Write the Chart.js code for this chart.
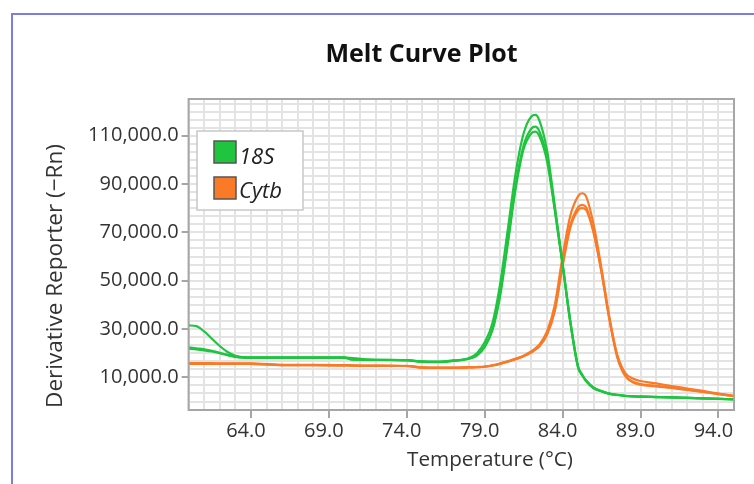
<!DOCTYPE html>
<html><head><meta charset="utf-8">
<script src="https://cdn.jsdelivr.net/npm/chart.js@4"></script>
<style>html,body{margin:0;padding:0;background:#fff;}</style>
</head><body>
<canvas id="c" width="754" height="484"></canvas>
<script>
// ---- data ----
const temps = [60, 60.5, 61, 61.5, 62, 62.5, 63, 63.5, 64, 66, 68, 70, 70.5, 72, 74, 75, 76, 77, 78, 78.5, 79, 79.5, 80, 80.5, 81, 81.5, 82, 82.25, 82.5, 83, 83.5, 84, 84.5, 85, 85.25, 85.5, 86, 86.5, 87, 87.5, 88, 88.5, 89, 90, 91, 92, 93, 94, 95];

const s18_rep1 = [31500, 31200, 29000, 26000, 23000, 20500, 18900, 18400, 18300, 18300, 18300, 18300, 17400, 17300, 17100, 16600, 16500, 17000, 18000, 20000, 24500, 32500, 49000, 72000, 95000, 111000, 118000, 118600, 116500, 104000, 81000, 57000, 32500, 14000, 11000, 8800, 5700, 4300, 3300, 2800, 2400, 2200, 2050, 1900, 1750, 1550, 1350, 1150, 950];
const s18_rep2 = [22400, 22000, 21600, 21000, 20200, 19300, 18600, 18300, 18200, 18200, 18200, 18200, 18000, 17300, 17100, 16500, 16400, 16900, 17800, 19200, 23000, 30000, 45000, 67000, 90000, 106000, 113000, 113800, 112000, 101000, 80000, 57000, 33000, 14000, 11000, 8500, 5500, 4200, 3200, 2700, 2300, 2100, 2000, 1850, 1700, 1500, 1300, 1100, 900];
const s18_rep3 = [21900, 21600, 21200, 20700, 20000, 19200, 18500, 18200, 18100, 18100, 18100, 18100, 17300, 17200, 17000, 16400, 16300, 16800, 17700, 19000, 22500, 29500, 44000, 66000, 88500, 104500, 111000, 111700, 110000, 99500, 79000, 56500, 33000, 14500, 11200, 8600, 5600, 4250, 3250, 2750, 2350, 2150, 2000, 1850, 1700, 1500, 1300, 1100, 900];

const cytb_rep1 = [15900, 15900, 15900, 15900, 15800, 15800, 15800, 15800, 15800, 15200, 15200, 15100, 15000, 14900, 14800, 14100, 14000, 14000, 14200, 14300, 14500, 15000, 15800, 16700, 17800, 19000, 20800, 22000, 23500, 29000, 40000, 60000, 77000, 85000, 86200, 85000, 73000, 55000, 35000, 19500, 12000, 9500, 8500, 7500, 6400, 5400, 4400, 3300, 2300];
const cytb_rep2 = [15600, 15600, 15600, 15600, 15600, 15600, 15600, 15600, 15600, 15100, 15100, 15000, 14900, 14800, 14700, 14000, 13900, 13900, 14100, 14200, 14400, 14900, 15700, 16600, 17600, 18800, 20500, 21600, 23000, 28000, 38000, 57000, 73000, 80500, 81400, 80500, 70000, 53500, 34000, 18500, 10800, 8000, 7000, 6300, 5600, 4800, 4000, 3100, 2200];
const cytb_rep3 = [15600, 15600, 15600, 15600, 15600, 15600, 15600, 15600, 15600, 15100, 15100, 15000, 14900, 14800, 14700, 14000, 13900, 13900, 14100, 14200, 14400, 14900, 15600, 16500, 17500, 18700, 20400, 21500, 22800, 27600, 37500, 56000, 72000, 79200, 80000, 79300, 69500, 53500, 34500, 19000, 11000, 8200, 7200, 6500, 5700, 4900, 4100, 3150, 2250];

const genes = ['18S', 'Cytb'];
const geneColors = ['#1fc43f', '#fa7a28'];
const xLabelTicks = [64, 69, 74, 79, 84, 89, 94];
const yLabelTicks = [10000, 30000, 50000, 70000, 90000, 110000];
const xTitle = 'Temperature (°C)';
const yTitle = 'Derivative Reporter (−Rn)';
const chartTitle = 'Melt Curve Plot';

// ---- build datasets ----
function pts(vals) { return temps.map((t, i) => ({ x: t, y: vals[i] })); }
const series = [
  { gene: 0, vals: s18_rep1 }, { gene: 0, vals: s18_rep2 }, { gene: 0, vals: s18_rep3 },
  { gene: 1, vals: cytb_rep1 }, { gene: 1, vals: cytb_rep2 }, { gene: 1, vals: cytb_rep3 }
];
const datasets = series.map(s => ({
  label: genes[s.gene],
  data: pts(s.vals),
  borderColor: geneColors[s.gene],
  backgroundColor: geneColors[s.gene],
  borderWidth: 2.2,
  pointRadius: 0,
  cubicInterpolationMode: 'monotone',
  fill: false
}));

const FONT = 'Open Sans';
const isLabelX = v => xLabelTicks.some(t => Math.abs(t - v) < 1e-6);
const isLabelY = v => yLabelTicks.some(t => Math.abs(t - v) < 1);

// choose a font size so that the text spans the wanted width
function fitFont(ctx, text, base, width) {
  ctx.font = base + 'px "' + FONT + '"';
  const w = ctx.measureText(text).width;
  return Math.min(24, base * width / w);
}

const decor = {
  id: 'decor',
  beforeDraw(chart) {
    const ctx = chart.ctx;
    ctx.save();
    ctx.fillStyle = '#fff';
    ctx.fillRect(0, 0, chart.width, chart.height);
    ctx.strokeStyle = '#7a7ee2';
    ctx.lineWidth = 2;
    ctx.beginPath();
    ctx.moveTo(12, chart.height);
    ctx.lineTo(12, 14);
    ctx.lineTo(chart.width, 14);
    ctx.stroke();
    // chart title
    ctx.fillStyle = '#111';
    ctx.font = 'bold 25px "' + FONT + '"';
    ctx.textAlign = 'center';
    ctx.textBaseline = 'alphabetic';
    ctx.fillText(chartTitle, 421.5, 62);
    ctx.restore();
  },
  afterDraw(chart) {
    const ctx = chart.ctx;
    const a = chart.chartArea;
    ctx.save();
    // plot frame
    ctx.strokeStyle = '#a6a6a6';
    ctx.lineWidth = 2;
    ctx.strokeRect(a.left, a.top, a.right - a.left, a.bottom - a.top);
    // axis titles
    ctx.fillStyle = '#333';
    ctx.textAlign = 'center';
    ctx.textBaseline = 'middle';
    const fx = fitFont(ctx, xTitle, 20, 166);
    ctx.font = fx + 'px "' + FONT + '"';
    ctx.fillText(xTitle, 490, 460);
    const fy = fitFont(ctx, yTitle, 20, 264);
    ctx.font = fy + 'px "' + FONT + '"';
    ctx.save();
    ctx.translate(56, 276);
    ctx.rotate(-Math.PI / 2);
    ctx.fillText(yTitle, 0, 0);
    ctx.restore();
    // legend box
    ctx.fillStyle = '#fff';
    ctx.fillRect(197, 131, 106, 79);
    ctx.strokeStyle = '#c8c8c8';
    ctx.lineWidth = 1.5;
    ctx.strokeRect(197, 131, 106, 79);
    genes.forEach((g, i) => {
      const y = 141 + i * 36;
      ctx.fillStyle = geneColors[i];
      ctx.fillRect(214, y, 22, 22);
      ctx.strokeStyle = '#555';
      ctx.lineWidth = 1.5;
      ctx.strokeRect(214, y, 22, 22);
      ctx.fillStyle = '#222';
      ctx.font = 'italic 22px "' + FONT + '"';
      ctx.textAlign = 'left';
      ctx.textBaseline = 'alphabetic';
      ctx.fillText(g, 239, 164 + i * 34);
    });
    ctx.restore();
  }
};

new Chart(document.getElementById('c'), {
  type: 'line',
  data: { datasets },
  plugins: [decor],
  options: {
    responsive: false,
    devicePixelRatio: 1,
    animation: false,
    layout: { padding: { left: 0, right: 20, top: 99, bottom: 0 } },
    plugins: {
      legend: { display: false },
      tooltip: { enabled: false },
      title: { display: false }
    },
    scales: {
      x: {
        type: 'linear',
        min: 60,
        max: 95,
        afterBuildTicks: s => { const t = []; for (let v = 60; v <= 95; v++) t.push({ value: v }); s.ticks = t; },
        afterFit: s => { s.height = 74; },
        border: { display: false },
        grid: {
          color: '#e3e3e3',
          lineWidth: 2,
          tickLength: 8,
          tickColor: c => (c.tick && isLabelX(c.tick.value)) ? '#a6a6a6' : 'rgba(0,0,0,0)'
        },
        ticks: {
          autoSkip: false,
          maxRotation: 0,
          padding: 1,
          labelOffset: -5,
          color: '#333',
          font: { family: FONT, size: 20 },
          callback: v => isLabelX(v) ? Number(v).toFixed(1) : ''
        }
      },
      y: {
        type: 'linear',
        min: -3500,
        max: 125200,
        afterBuildTicks: s => {
          const t = [];
          for (let k = -4; k <= 34; k++) { const v = 10000 + k * 10000 / 3; if (v >= s.min && v <= s.max) t.push({ value: v }); }
          s.ticks = t;
        },
        afterFit: s => { s.width = 188.6; },
        border: { display: false },
        grid: {
          color: '#e3e3e3',
          lineWidth: 2,
          tickLength: 7,
          tickColor: c => (c.tick && isLabelY(c.tick.value)) ? '#a6a6a6' : 'rgba(0,0,0,0)'
        },
        ticks: {
          autoSkip: false,
          padding: 3,
          color: '#333',
          font: { family: FONT, size: 20 },
          callback: v => isLabelY(v) ? Math.round(v).toLocaleString('en-US', { minimumFractionDigits: 1, maximumFractionDigits: 1 }) : ''
        }
      }
    }
  }
});
</script>
</body></html>
